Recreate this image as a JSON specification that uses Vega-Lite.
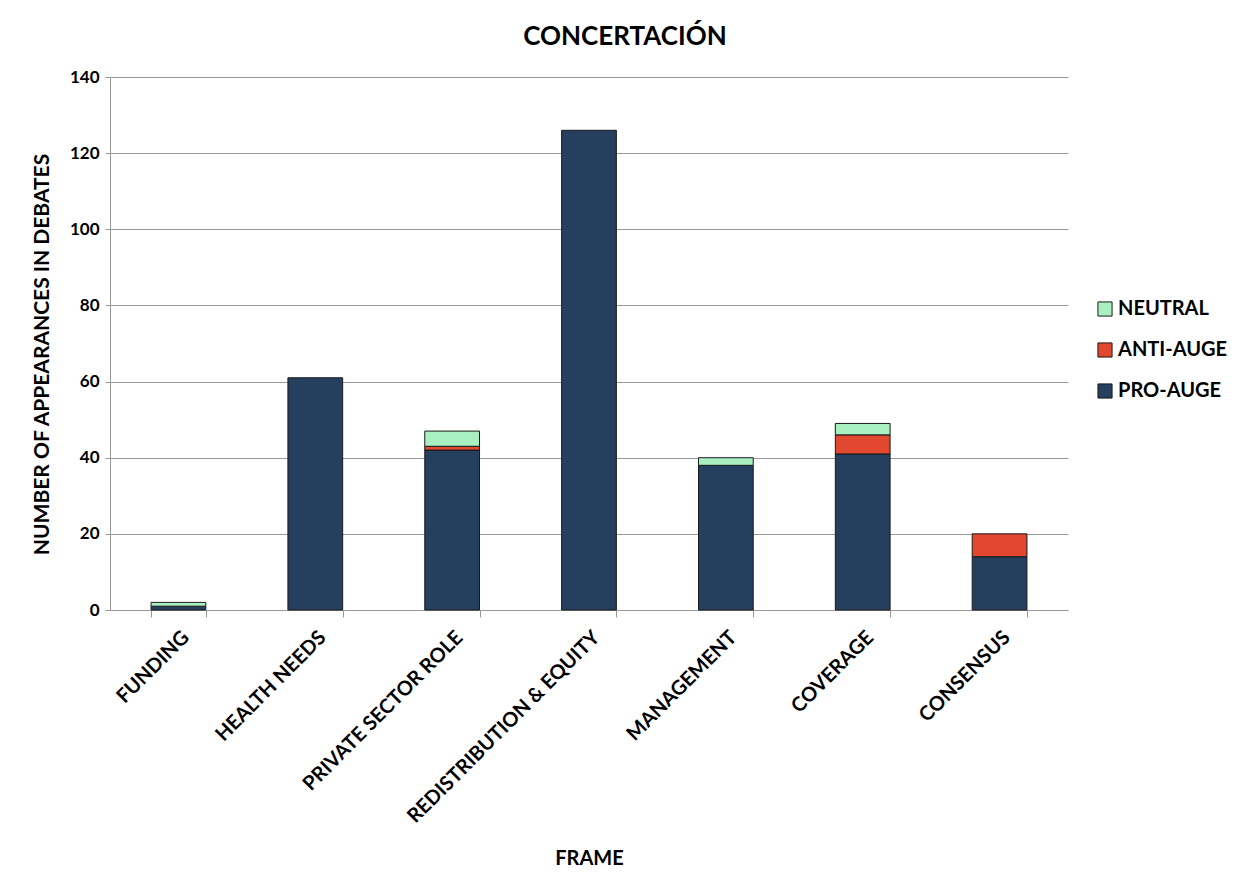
{
  "$schema": "https://vega.github.io/schema/vega-lite/v6.json",
  "autosize": {"type": "none"},
  "width": 958,
  "height": 533,
  "padding": {"left": 110, "top": 77, "right": 178, "bottom": 280},
  "background": "white",
  "title": {
    "text": "CONCERTACIÓN",
    "font": "Lato",
    "fontSize": 26,
    "fontWeight": "bold",
    "color": "#000000",
    "anchor": "middle",
    "dx": 36,
    "offset": 18
  },
  "data": {
    "values": [
      {"frame": "FUNDING", "stance": "PRO-AUGE", "n": 1, "o": 1},
      {"frame": "FUNDING", "stance": "ANTI-AUGE", "n": 0, "o": 2},
      {"frame": "FUNDING", "stance": "NEUTRAL", "n": 1, "o": 3},
      {"frame": "HEALTH NEEDS", "stance": "PRO-AUGE", "n": 61, "o": 1},
      {"frame": "HEALTH NEEDS", "stance": "ANTI-AUGE", "n": 0, "o": 2},
      {"frame": "HEALTH NEEDS", "stance": "NEUTRAL", "n": 0, "o": 3},
      {"frame": "PRIVATE SECTOR ROLE", "stance": "PRO-AUGE", "n": 42, "o": 1},
      {"frame": "PRIVATE SECTOR ROLE", "stance": "ANTI-AUGE", "n": 1, "o": 2},
      {"frame": "PRIVATE SECTOR ROLE", "stance": "NEUTRAL", "n": 4, "o": 3},
      {"frame": "REDISTRIBUTION & EQUITY", "stance": "PRO-AUGE", "n": 126, "o": 1},
      {"frame": "REDISTRIBUTION & EQUITY", "stance": "ANTI-AUGE", "n": 0, "o": 2},
      {"frame": "REDISTRIBUTION & EQUITY", "stance": "NEUTRAL", "n": 0, "o": 3},
      {"frame": "MANAGEMENT", "stance": "PRO-AUGE", "n": 38, "o": 1},
      {"frame": "MANAGEMENT", "stance": "ANTI-AUGE", "n": 0, "o": 2},
      {"frame": "MANAGEMENT", "stance": "NEUTRAL", "n": 2, "o": 3},
      {"frame": "COVERAGE", "stance": "PRO-AUGE", "n": 41, "o": 1},
      {"frame": "COVERAGE", "stance": "ANTI-AUGE", "n": 5, "o": 2},
      {"frame": "COVERAGE", "stance": "NEUTRAL", "n": 3, "o": 3},
      {"frame": "CONSENSUS", "stance": "PRO-AUGE", "n": 14, "o": 1},
      {"frame": "CONSENSUS", "stance": "ANTI-AUGE", "n": 6, "o": 2},
      {"frame": "CONSENSUS", "stance": "NEUTRAL", "n": 0, "o": 3}
    ]
  },
  "transform": [{"filter": "datum.n > 0"}],
  "mark": {"type": "bar", "stroke": "#1a1a1a", "strokeWidth": 1},
  "encoding": {
    "x": {
      "field": "frame",
      "type": "nominal",
      "sort": ["FUNDING", "HEALTH NEEDS", "PRIVATE SECTOR ROLE", "REDISTRIBUTION & EQUITY", "MANAGEMENT", "COVERAGE", "CONSENSUS"],
      "scale": {"paddingInner": 0.6, "paddingOuter": 0.3},
      "axis": {
        "title": "FRAME",
        "labelAngle": -45,
        "labelLimit": 0,
        "labelFont": "Lato",
        "labelFontSize": 20,
        "labelFontWeight": "bold",
        "labelColor": "#000000",
        "labelPadding": 10,
        "titleFont": "Lato",
        "titleFontSize": 20,
        "titleFontWeight": "bold",
        "titleColor": "#000000",
        "titlePadding": 38,
        "domainColor": "#999999",
        "ticks": true,
        "tickBand": "extent",
        "tickColor": "#999999",
        "tickSize": 7
      }
    },
    "y": {
      "field": "n",
      "type": "quantitative",
      "stack": "zero",
      "scale": {"domain": [0, 140], "nice": false},
      "axis": {
        "title": "NUMBER OF APPEARANCES IN DEBATES",
        "values": [0, 20, 40, 60, 80, 100, 120, 140],
        "labelFont": "Lato",
        "labelFontSize": 17,
        "labelFontWeight": "bold",
        "labelColor": "#000000",
        "labelPadding": 6,
        "tickColor": "#999999",
        "tickSize": 5,
        "titleFont": "Lato",
        "titleFontSize": 21,
        "titleFontWeight": "bold",
        "titleColor": "#000000",
        "titlePadding": 17,
        "titleY": 277,
        "domainColor": "#999999",
        "gridColor": "#999999",
        "gridOpacity": 1
      }
    },
    "color": {
      "field": "stance",
      "type": "nominal",
      "scale": {
        "domain": ["NEUTRAL", "ANTI-AUGE", "PRO-AUGE"],
        "range": ["#A9F0C1", "#E2472F", "#253F5F"]
      },
      "legend": {
        "title": null,
        "orient": "none",
        "legendX": 985,
        "legendY": 222,
        "symbolType": "square",
        "symbolSize": 200,
        "symbolStrokeColor": "#1a1a1a",
        "symbolStrokeWidth": 1,
        "labelFont": "Lato",
        "labelFontSize": 20,
        "labelFontWeight": "bold",
        "labelColor": "#000000",
        "rowPadding": 21,
        "labelOffset": 3
      }
    },
    "order": {"field": "o", "type": "quantitative", "sort": "ascending"}
  },
  "config": {
    "view": {"stroke": null}
  }
}
